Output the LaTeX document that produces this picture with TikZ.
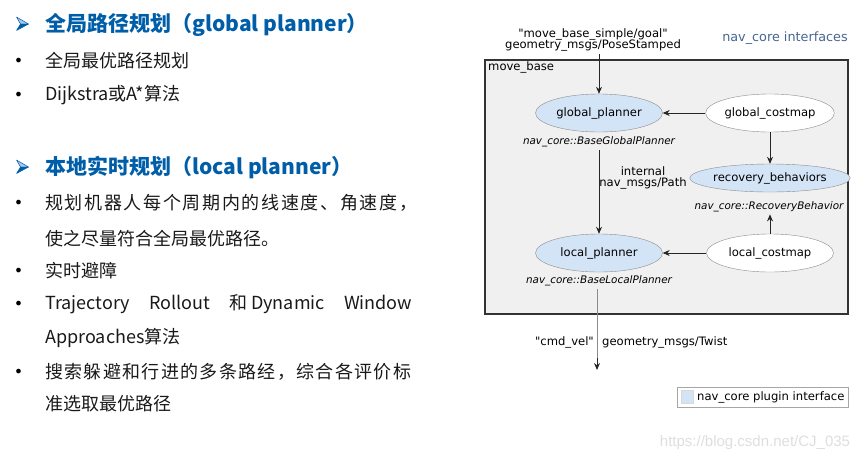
\documentclass[tikz,border=0pt]{standalone}
\usepackage{fontspec}
\setmainfont{Noto Sans CJK SC}
\newfontfamily\dejavu{DejaVu Sans}
\newfontfamily\libsans{Liberation Sans}
\usetikzlibrary{shapes.geometric,arrows.meta}
\definecolor{headblue}{RGB}{0,94,168}
\definecolor{lightarrow}{RGB}{170,200,235}
\definecolor{boxgray}{RGB}{240,240,240}
\definecolor{ellblue}{RGB}{212,228,247}
\definecolor{ellline}{RGB}{140,140,140}
\definecolor{navblue}{RGB}{70,102,145}
\definecolor{wmgray}{RGB}{222,222,222}
\tikzset{
  heading/.style={anchor=west,inner sep=0pt,font=\fontsize{21}{24}\selectfont\bfseries,text=headblue},
  body/.style={anchor=west,inner sep=0pt,font=\fontsize{18}{21}\selectfont,text=black!90},
  bmark/.style={inner sep=0pt,font=\dejavu\fontsize{16}{18}\selectfont,text=black},
  dtext/.style={inner sep=0pt,font=\dejavu\fontsize{11.6}{13}\selectfont,align=center},
  itext/.style={inner sep=0pt,font=\dejavu\fontsize{10.4}{12}\selectfont\itshape},
  plug/.style={ellipse,draw=ellline,fill=ellblue,minimum width=127pt,minimum height=38pt,inner sep=0pt,font=\dejavu\fontsize{11.6}{13}\selectfont},
  cmap/.style={plug,fill=white},
  arr/.style={-{Stealth[length=7pt,width=6pt]},line width=0.8pt,draw=black!85},
  hmarkup/.style={fill=lightarrow,draw=headblue,line width=0.5pt,line join=round},
  hmarklow/.style={fill=headblue,draw=headblue,line width=0.5pt,line join=round},
}
\begin{document}
\begin{tikzpicture}[x=1pt,y=-1pt]
\useasboundingbox (0,0) rectangle (865,461);
% ---- heading markers ----
\foreach \yy in {24,167}{
  \path[hmarkup] (16.5,\yy-7) -- (28.5,\yy) -- (20.5,\yy) -- cycle;
  \path[hmarklow] (20.5,\yy) -- (28.5,\yy) -- (16.5,\yy+6.5) -- cycle;
}
% ---- left text ----
\node[heading] (h1) at (45,25) {全局路径规划（global planner）};
\node[bmark] (b1) at (18.5,62) {•};
\node[body] (t1) at (45,61) {全局最优路径规划};
\node[bmark] (b2) at (18.5,96) {•};
\node[body] (t2) at (45,95) {Dijkstra或A*算法};
\node[heading] (h2) at (45,168) {本地实时规划（local planner）};
\node[bmark] (b3) at (18.5,204) {•};
\node[body] (t3) at (45,203) {\hbox to 372pt{规\hfill 划\hfill 机\hfill 器\hfill 人\hfill 每\hfill 个\hfill 周\hfill 期\hfill 内\hfill 的\hfill 线\hfill 速\hfill 度\hfill 、\hfill 角\hfill 速\hfill 度\hfill ，}};
\node[body] (t3b) at (45,239) {使之尽量符合全局最优路径。};
\node[bmark] (b4) at (18.5,272) {•};
\node[body] (t4) at (45,271) {实时避障};
\node[bmark] (b5) at (18.5,305) {•};
\node[body] (t5) at (45,304) {\hbox to 367pt{Trajectory\hfill Rollout\hfill 和 Dynamic\hfill Window}};
\node[body] (t5b) at (45,338) {Approaches算法};
\node[bmark] (b6) at (18.5,373) {•};
\node[body] (t6) at (45,372) {\hbox to 366pt{搜\hfill 索\hfill 躲\hfill 避\hfill 和\hfill 行\hfill 进\hfill 的\hfill 多\hfill 条\hfill 路\hfill 经\hfill ，\hfill 综\hfill 合\hfill 各\hfill 评\hfill 价\hfill 标}};
\node[body] (t6b) at (45,404) {准选取最优路径};
% ---- diagram ----
\node[draw=black!80,line width=1.2pt,fill=boxgray,minimum width=363pt,minimum height=254pt,inner sep=0pt] (mb) at (666.5,187) {};
\node[dtext,anchor=north west] (mblab) at (488,61) {move\_base};
\node[dtext,text=navblue,font=\dejavu\fontsize{12.8}{14}\selectfont] (navif) at (785,38) {nav\_core interfaces};
\node[dtext] (goal) at (593,40) {"move\_base\_simple/goal"\\[-1.5pt]geometry\_msgs/PoseStamped};
\node[plug] (gp) at (599,113) {global\_planner};
\node[cmap] (gc) at (770,113) {global\_costmap};
\node[itext] (gplab) at (599,142) {nav\_core::BaseGlobalPlanner};
\node[plug,minimum height=28pt] (rb) at (770,178) {recovery\_behaviors};
\node[itext] (rblab) at (769,207) {nav\_core::RecoveryBehavior};
\node[plug] (lp) at (599,253) {local\_planner};
\node[cmap] (lc) at (770,253) {local\_costmap};
\node[itext] (lplab) at (599,281) {nav\_core::BaseLocalPlanner};
\node[dtext] (intl) at (643,178) {internal\\[-1.5pt]nav\_msgs/Path};
\coordinate (out) at (597,370);
\node[dtext,anchor=east] (cmd) at (594,342) {"cmd\_vel"};
\node[dtext,anchor=west] (twist) at (602,342) {geometry\_msgs/Twist};
\draw[arr] (gp.north |- goal.south) ++(0,2) -- (gp.north);
\draw[arr] (gc.west) -- (gp.east);
\draw[arr] (gc.south) -- (rb.north);
\draw[arr] (lc.north) -- ([yshift=-2pt]rblab.south -| lc.north);
\draw[arr] ([yshift=-3pt]gplab.south -| lp.north) -- (lp.north);
\draw[arr] (lc.west) -- (lp.east);
\draw[line width=0.9pt,draw=black!45] ([yshift=-3pt]lplab.south -| out) -- ([yshift=6pt]out);
\draw[arr] ([yshift=12pt]out) -- (out);
% legend
\node[draw=black!35,line width=0.6pt,minimum width=171pt,minimum height=20pt,inner sep=0pt] (legend) at (762.5,397) {};
\node[fill=ellblue,draw=black!15,minimum width=12pt,minimum height=13pt,inner sep=0pt] (legsq) at (687,397) {};
\node[dtext,anchor=west] (legtxt) at (697,397) {nav\_core plugin interface};
% watermark
\node[inner sep=0pt,font=\libsans\fontsize{15}{17}\selectfont,text=wmgray] (wm) at (755,443) {https://blog.csdn.net/CJ\_035};
\end{tikzpicture}
\end{document}
